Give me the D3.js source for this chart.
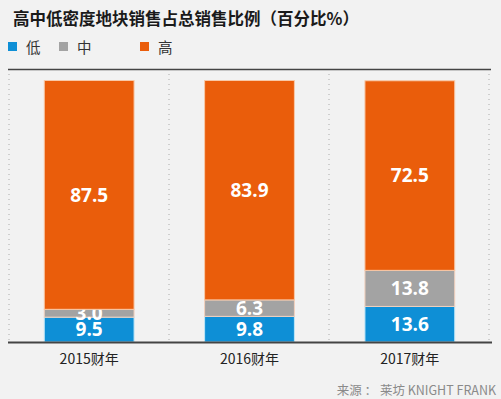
<!DOCTYPE html>
<html>
<head>
<meta charset="utf-8">
<script src="https://cdn.jsdelivr.net/npm/d3@7"></script>
<style>
  html, body { margin: 0; padding: 0; background: #f2f2f2; }
  svg { display: block; }
</style>
</head>
<body>
<div id="chart"></div>
<script>
const years = ["2015财年", "2016财年", "2017财年"]
const lowValues = [9.5, 9.8, 13.6]
const midValues = [3.0, 6.3, 13.8]
const highValues = [87.5, 83.9, 72.5]
const seriesNames = ["低", "中", "高"]
const seriesColors = ["#0e8fd6", "#a3a3a3", "#ea5d0b"]

const width = 501
const height = 399
const font = "'Noto Sans CJK SC', 'Open Sans', sans-serif"

const svg = d3.select("#chart")
  .append("svg")
  .attr("width", width)
  .attr("height", height)

svg.append("rect")
  .attr("width", width)
  .attr("height", height)
  .attr("fill", "#f2f2f2")

// title
svg.append("text")
  .attr("x", 13)
  .attr("y", 25)
  .attr("font-family", font)
  .attr("font-size", 16.5)
  .attr("font-weight", 700)
  .attr("fill", "#1a1a1a")
  .text("高中低密度地块销售占总销售比例（百分比%）")

// legend
const legendX = [8, 59, 140]
seriesNames.forEach((name, i) => {
  svg.append("rect")
    .attr("x", legendX[i])
    .attr("y", 42)
    .attr("width", 9)
    .attr("height", 9)
    .attr("fill", seriesColors[i])
  svg.append("text")
    .attr("x", legendX[i] + 18)
    .attr("y", 52.5)
    .attr("font-family", font)
    .attr("font-size", 14.5)
    .attr("fill", "#333")
    .text(name)
})

const x = d3.scaleBand()
  .domain(years)
  .range([9, 490])
  .paddingInner(0.44)
  .paddingOuter(0.22)

const y = d3.scaleLinear()
  .domain([0, 100])
  .range([342, 80.5])

// top rule
svg.append("line")
  .attr("x1", 8).attr("x2", 491)
  .attr("y1", 69.5).attr("y2", 69.5)
  .attr("stroke", "#444")
  .attr("stroke-width", 1.5)

// dotted separators
const sepX = [9, 169, 329, 489]
sepX.forEach(sx => {
  svg.append("line")
    .attr("x1", sx).attr("x2", sx)
    .attr("y1", 74).attr("y2", 342)
    .attr("stroke", "#aaa")
    .attr("stroke-width", 1)
    .attr("stroke-dasharray", "1,4")
})

const rows = years.map((yr, i) => ({ year: yr, vals: [lowValues[i], midValues[i], highValues[i]] }))
const stack = d3.stack().keys([0, 1, 2]).value((d, k) => d.vals[k])
const layers = stack(rows)

layers.forEach((layer, k) => {
  const g = svg.append("g")
  g.selectAll("rect")
    .data(layer)
    .join("rect")
    .attr("x", d => x(d.data.year))
    .attr("width", x.bandwidth())
    .attr("y", d => y(d[1]))
    .attr("height", d => y(d[0]) - y(d[1]))
    .attr("fill", seriesColors[k])
    .attr("stroke", k === 0 ? "#bfe6f7" : k === 1 ? "#f3d1bd" : "#f8c9a8")
    .attr("stroke-width", 1)

  g.selectAll("text")
    .data(layer)
    .join("text")
    .attr("x", d => x(d.data.year) + x.bandwidth() / 2)
    .attr("y", d => (y(d[0]) + y(d[1])) / 2)
    .attr("dy", "0.36em")
    .attr("text-anchor", "middle")
    .attr("font-family", "'Open Sans', sans-serif")
    .attr("font-weight", 700)
    .attr("font-size", 19)
    .attr("fill", "#fff")
    .text(d => d.data.vals[k].toFixed(1))
})

// baseline
svg.append("line")
  .attr("x1", 8).attr("x2", 492)
  .attr("y1", 342.5).attr("y2", 342.5)
  .attr("stroke", "#444")
  .attr("stroke-width", 2)

// x axis labels
const xAxis = d3.axisBottom(x).tickSize(0).tickPadding(0)
const ax = svg.append("g")
  .attr("transform", "translate(0,354)")
  .call(xAxis)
ax.select(".domain").remove()
ax.selectAll("text")
  .attr("font-family", font)
  .attr("font-size", 14)
  .attr("fill", "#222")
  .attr("dy", "0.71em")

// source
svg.append("text")
  .attr("x", 496)
  .attr("y", 395)
  .attr("text-anchor", "end")
  .attr("font-family", font)
  .attr("font-size", 12.5)
  .attr("fill", "#8a8a8a")
  .text("来源 ： 莱坊 KNIGHT FRANK")
</script>
</body>
</html>
